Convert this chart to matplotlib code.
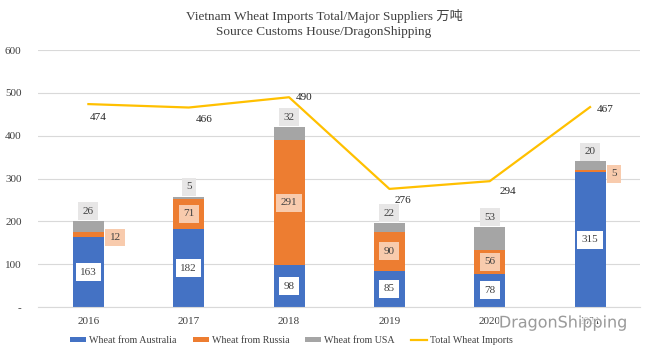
import matplotlib
matplotlib.use("Agg")
import matplotlib.pyplot as plt
import matplotlib.patheffects as pe
import numpy as np

years = ["2016", "2017", "2018", "2019", "2020", "2021"]
australia = [163, 182, 98, 85, 78, 315]
russia = [12, 71, 291, 90, 56, 5]
usa = [26, 5, 32, 22, 53, 20]
total = [474, 466, 490, 276, 294, 467]

# where each total label sits relative to its point (pixels, right / down)
total_offsets = [(10, 13), (15, 12), (15, 0), (14, 12), (18, 10), (15, 2)]

plt.rcParams['font.family'] = ['Liberation Serif', 'Noto Sans CJK SC']

c_au = '#4472C4'
c_ru = '#ED7D31'
c_us = '#A5A5A5'
c_tot = '#FFC000'

fig = plt.figure(figsize=(6.48, 3.53), dpi=100)
ax = fig.add_axes([0.059, 0.130, 0.929, 0.728])

x = np.arange(len(years))
w = 0.31
au = np.array(australia)
ru = np.array(russia)
us = np.array(usa)

b1 = ax.bar(x, au, w, color=c_au, label='Wheat from Australia', zorder=2)
b2 = ax.bar(x, ru, w, bottom=au, color=c_ru, label='Wheat from Russia', zorder=2)
b3 = ax.bar(x, us, w, bottom=au + ru, color=c_us, label='Wheat from USA', zorder=2)
l1, = ax.plot(x, total, color=c_tot, lw=1.6, label='Total Wheat Imports', zorder=3)

fs = 8
box = dict(boxstyle='square,pad=0.4', ec='none')
for i in range(len(years)):
    ax.text(x[i], au[i] / 2, str(australia[i]), ha='center', va='center', fontsize=fs,
            color='#404040', bbox=dict(box, fc='white'), zorder=4)
    if russia[i] < 20:
        # small segment: label sits beside the bar
        ax.annotate(str(russia[i]), (x[i] + w / 2, au[i] + ru[i] / 2), xytext=(4, -2),
                    textcoords='offset points', ha='left', va='center', fontsize=fs,
                    color='#404040', bbox=dict(box, fc='#F8CBAD'), zorder=4)
    else:
        ax.text(x[i], au[i] + ru[i] / 2, str(russia[i]), ha='center', va='center', fontsize=fs,
                color='#404040', bbox=dict(box, fc='#F8CBAD'), zorder=4)
    ax.annotate(str(usa[i]), (x[i], au[i] + ru[i] + us[i]), xytext=(0, 7),
                textcoords='offset points', ha='center', va='center', fontsize=fs,
                color='#404040', bbox=dict(box, fc='#E7E6E6'), zorder=4)
    dx, dy = total_offsets[i]
    ax.annotate(str(total[i]), (x[i], total[i]), xytext=(dx * 0.72, -dy * 0.72),
                textcoords='offset points', ha='center', va='center', fontsize=fs,
                color='#262626', zorder=4)

ax.set_xlim(-0.5, len(years) - 0.5)
ax.set_ylim(0, 600)
ax.set_xticks(x)
ax.set_xticklabels(years)
ax.set_yticks(range(0, 601, 100))
ax.set_yticklabels(['-'] + [str(v) for v in range(100, 601, 100)])
ax.tick_params(axis='both', length=0, labelsize=fs, colors='#404040')
ax.tick_params(axis='x', pad=7)
ax.tick_params(axis='y', pad=12)
ax.grid(axis='y', color='#D9D9D9', lw=0.8, zorder=0)
for s in ['top', 'right', 'left']:
    ax.spines[s].set_visible(False)
ax.spines['bottom'].set_color('#D9D9D9')

fig.text(0.5, 0.955, 'Vietnam Wheat Imports Total/Major Suppliers 万吨', ha='center', va='center',
         fontsize=9.5, color='#404040')
fig.text(0.5, 0.91, 'Source Customs House/DragonShipping', ha='center', va='center',
         fontsize=9.5, color='#404040')

fig.legend([b1, b2, b3, l1], [h.get_label() for h in [b1, b2, b3, l1]],
           loc='center', bbox_to_anchor=(0.45, 0.035), ncol=4, frameon=False, fontsize=7.2,
           handlelength=1.6, handleheight=0.45, columnspacing=1.6, handletextpad=0.3,
           labelcolor='#404040')

# watermark
fig.text(0.97, 0.085, 'DragonShipping', ha='right', va='center', fontsize=11.5,
         family='DejaVu Sans', color='#8c8c8c', alpha=0.85,
         path_effects=[pe.withStroke(linewidth=2, foreground='white')], zorder=10)

fig.savefig('out.png', dpi=100)
